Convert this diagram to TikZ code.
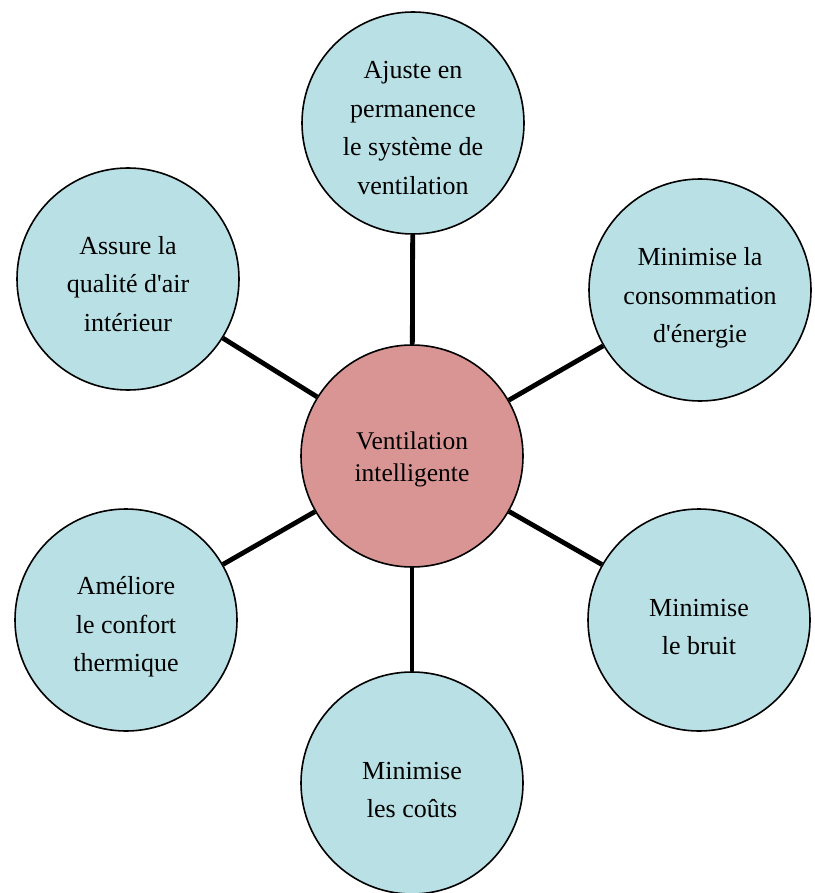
\documentclass[tikz,border=0pt]{standalone}
\usepackage{fontspec}
\setmainfont{Liberation Serif}[Ligatures=TeXOff]
\definecolor{outerfill}{HTML}{B9E0E4}
\definecolor{centerfill}{HTML}{D99594}
\tikzset{
  bubble/.style={circle, draw=black, line width=1.6pt, fill=outerfill, minimum size=222pt, inner sep=0pt},
  hub/.style={bubble, fill=centerfill},
  txt/.style={align=center, inner sep=0pt, font=\fontsize{26}{38.5}\selectfont},
  hubtxt/.style={txt, font=\fontsize{25.5}{32}\selectfont},
  spoke/.style={line width=4.8pt, draw=black}
}
\begin{document}
\begin{tikzpicture}[x=1pt,y=-1pt]
\useasboundingbox (0,0) rectangle (814,893);
\node[hub] (c) at (412,456) {};
\node[bubble] (t) at (413,123) {};
\node[bubble] (ur) at (700,290) {};
\node[bubble] (lr) at (699,620) {};
\node[bubble] (b) at (412,783) {};
\node[bubble] (ll) at (126,620) {};
\node[bubble] (ul) at (128,279) {};
\foreach \n in {t,ur,lr,b,ll,ul} \draw[spoke] (c) -- (\n);
\node[hubtxt] (ct) at ([yshift=-3pt]c.center) {Ventilation\\intelligente};
\node[txt] (tt) at ([yshift=-5pt]t.center) {Ajuste en\\permanence\\le système de\\ventilation};
\node[txt] (urt) at ([yshift=-8pt]ur.center) {Minimise la\\consommation\\d'énergie};
\node[txt] (lrt) at ([yshift=-7pt]lr.center) {Minimise\\le bruit};
\node[txt] (bt) at ([yshift=-7pt]b.center) {Minimise\\les coûts};
\node[txt] (llt) at ([yshift=-7pt]ll.center) {Améliore\\le confort\\thermique};
\node[txt] (ult) at ([yshift=-5pt]ul.center) {Assure la\\qualité d'air\\intérieur};
\end{tikzpicture}
\end{document}
